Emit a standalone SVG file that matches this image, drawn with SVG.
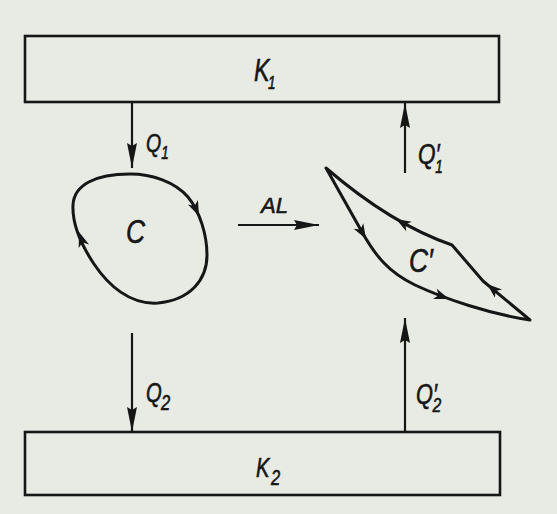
<svg xmlns="http://www.w3.org/2000/svg" xmlns:xlink="http://www.w3.org/1999/xlink" width="557" height="514" viewBox="0 0 557 514">
  <style>
    .box { fill: none; stroke: #161616; stroke-width: 2.6; }
    .arrow { fill: none; stroke: #161616; stroke-width: 2.2; marker-end: url(#head); }
    .loop { fill: none; stroke: #161616; stroke-width: 3; stroke-linejoin: round; }
    .lbl { font-family: "Liberation Sans", Arial, sans-serif; font-style: italic; fill: #161616; stroke: #161616; stroke-width: 0.6; }
    .ah { fill: #161616; }
  </style>
  <defs>
    <marker id="head" markerUnits="userSpaceOnUse" markerWidth="26" markerHeight="10" refX="25" refY="5" orient="auto">
      <path d="M0,0 L25,5 L0,10 L3,5 z" fill="#161616"/>
    </marker>
    <path id="ah" d="M0,0 L-15,-5.5 L-11,0 L-15,5.5 z"/>
  </defs>
  <rect x="0" y="0" width="557" height="514" fill="#e8ebe4"/>

  <g id="K1">
    <rect class="box" x="25" y="36" width="474" height="66"/>
    <text class="lbl" transform="translate(254,81) scale(0.75,1)" font-size="31">K<tspan font-size="18" dx="-2" dy="8">1</tspan></text>
  </g>
  <g id="K2">
    <rect class="box" x="25" y="432" width="475" height="63"/>
    <text class="lbl" transform="translate(256,477) scale(0.75,1)" font-size="27">K<tspan font-size="22" dx="2" dy="8">2</tspan></text>
  </g>

  <g id="C">
    <path class="loop" d="M130,174 C152,174 175,182 188,197 C200,212 207,235 207,255 C207,280 190,300 158,303 C130,305 108,285 94,264 C82,246 72,225 73,205 C74,185 95,174 130,174 Z"/>
    <use xlink:href="#ah" class="ah" transform="translate(199,216) rotate(66)"/>
    <use xlink:href="#ah" class="ah" transform="translate(79,232) rotate(-109)"/>
    <text class="lbl" transform="translate(126,243) scale(0.8,1)" font-size="33">C</text>
  </g>

  <g id="Cprime">
    <path class="loop" d="M326,168 L362,232 C375,255 388,272 415,285 C445,299 490,314 530,320 L483,281 L452,245 Q391,224 326,168 Z"/>
    <use xlink:href="#ah" class="ah" transform="translate(366,239) rotate(60)"/>
    <use xlink:href="#ah" class="ah" transform="translate(449,299) rotate(20)"/>
    <use xlink:href="#ah" class="ah" transform="translate(396,219) rotate(-150)"/>
    <use xlink:href="#ah" class="ah" transform="translate(487,284) rotate(-140)"/>
    <text class="lbl" transform="translate(409,272) scale(0.8,1)" font-size="33">C′</text>
  </g>

  <g id="connectors">
    <line class="arrow" x1="132" y1="102" x2="132" y2="168"/>
    <line class="arrow" x1="132" y1="333" x2="132" y2="432"/>
    <line class="arrow" x1="405" y1="173" x2="405" y2="103"/>
    <line class="arrow" x1="405" y1="432" x2="405" y2="318"/>
    <line class="arrow" x1="238" y1="225" x2="319" y2="225"/>
  </g>

  <g id="labels">
    <text class="lbl" transform="translate(146,152) scale(0.75,1)" font-size="26">Q<tspan font-size="18" dx="0" dy="7">1</tspan></text>
    <text class="lbl" transform="translate(146,402) scale(0.75,1)" font-size="27">Q<tspan font-size="22" dx="-1" dy="8">2</tspan></text>
    <text class="lbl" transform="translate(418,164) scale(0.75,1)" font-size="30">Q′<tspan font-size="18" dx="-6" dy="9">1</tspan></text>
    <text class="lbl" transform="translate(416,404) scale(0.75,1)" font-size="29">Q′<tspan font-size="21" dx="-6" dy="8">2</tspan></text>
    <text class="lbl" x="261" y="213" font-size="22">AL</text>
  </g>
</svg>
